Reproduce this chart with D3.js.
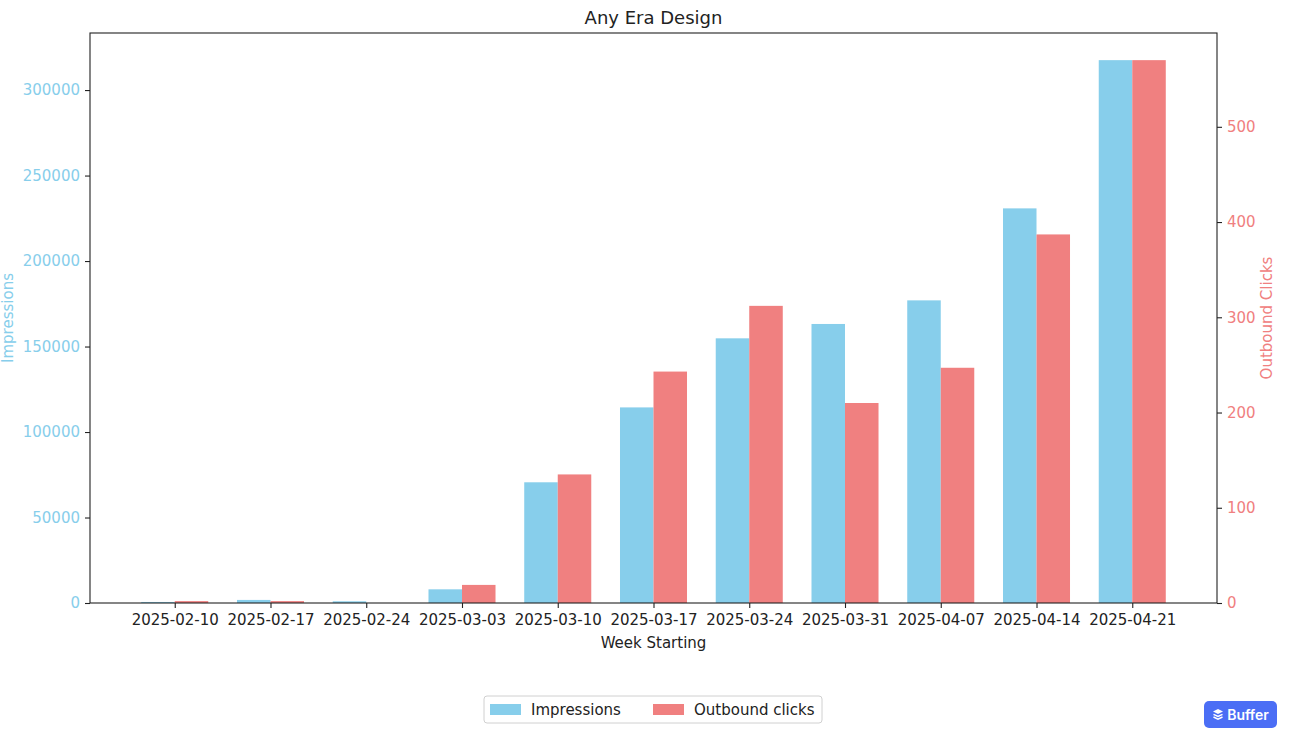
<!DOCTYPE html>
<html>
<head>
<meta charset="utf-8">
<title>Any Era Design</title>
<script src="https://cdn.jsdelivr.net/npm/d3@7"></script>
<style>
  body { margin: 0; background: #fff; font-family: "DejaVu Sans", sans-serif; }
  svg text { fill: #222; }
  .badge {
    position: absolute; left: 1204px; top: 701px; width: 73px; height: 27px;
    background: #4b6ef5; border-radius: 5px; color: #fff;
    font-family: Inter, "Noto Sans", sans-serif; font-weight: 600; font-size: 14px;
    display: flex; align-items: center; justify-content: center; gap: 3px;
  }
</style>
</head>
<body>
<div class="badge"><svg width="12" height="13" viewBox="0 0 12 13">
  <path d="M6 1 L11 3.5 L6 6 L1 3.5 Z" fill="#fff"/>
  <path d="M1.5 6.3 L6 8.5 L10.5 6.3" fill="none" stroke="#fff" stroke-width="1.5"/>
  <path d="M1.5 9 L6 11.2 L10.5 9" fill="none" stroke="#fff" stroke-width="1.5"/>
</svg>Buffer</div>
<script>
// weekly numbers
var weeks = ["2025-02-10", "2025-02-17", "2025-02-24", "2025-03-03", "2025-03-10", "2025-03-17",
             "2025-03-24", "2025-03-31", "2025-04-07", "2025-04-14", "2025-04-21"];
var impressions = [600, 1800, 1000, 8000, 70600, 114400, 154800, 163200, 177000, 230800, 317500];
var clicks = [2, 2, 0, 19, 135, 243, 312, 210, 247, 387, 570];
var impTicks = [0, 50000, 100000, 150000, 200000, 250000, 300000];
var clickTicks = [0, 100, 200, 300, 400, 500];

var width = 1292, height = 733;
// plot box (window.top is reserved, so prefixed names)
var pLeft = 90, pRight = 1217, pTop = 33, pBottom = 603;
var blue = "#87ceeb", red = "#f08080";
var barW = 0.35;
var fs = "15px";

var svg = d3.select("body").append("svg")
  .attr("width", width)
  .attr("height", height)
  .style("position", "absolute").style("left", 0).style("top", 0);

// matplotlib style x limits with 5% margins
var lo = -barW, hi = weeks.length - 1 + barW, pad = (hi - lo) * 0.05;
var x = d3.scaleLinear().domain([lo - pad, hi + pad]).range([pLeft, pRight]);
var yL = d3.scaleLinear().domain([0, d3.max(impressions) * 1.05]).range([pBottom, pTop]);
var yR = d3.scaleLinear().domain([0, d3.max(clicks) * 1.05]).range([pBottom, pTop]);

svg.append("g").selectAll("rect")
  .data(impressions)
  .join("rect")
  .attr("x", function(d, i) { return x(i - barW); })
  .attr("width", x(barW) - x(0))
  .attr("y", function(d) { return yL(d); })
  .attr("height", function(d) { return pBottom - yL(d); })
  .attr("fill", blue);

svg.append("g").selectAll("rect")
  .data(clicks)
  .join("rect")
  .attr("x", function(d, i) { return x(i); })
  .attr("width", x(barW) - x(0))
  .attr("y", function(d) { return yR(d); })
  .attr("height", function(d) { return pBottom - yR(d); })
  .attr("fill", red);

// axes
var gx = svg.append("g").attr("transform", "translate(0," + pBottom + ")")
  .call(d3.axisBottom(x).tickValues(d3.range(weeks.length)).tickFormat(function(i) { return weeks[i]; })
    .tickSizeInner(5).tickSizeOuter(0).tickPadding(6));
var gl = svg.append("g").attr("transform", "translate(" + pLeft + ",0)")
  .call(d3.axisLeft(yL).tickValues(impTicks).tickFormat(d3.format("d"))
    .tickSizeInner(5).tickSizeOuter(0).tickPadding(5));
var gr = svg.append("g").attr("transform", "translate(" + pRight + ",0)")
  .call(d3.axisRight(yR).tickValues(clickTicks).tickFormat(d3.format("d"))
    .tickSizeInner(5).tickSizeOuter(0).tickPadding(5));

[gx, gl, gr].forEach(function(g) {
  g.select(".domain").remove();
  g.selectAll(".tick line").attr("stroke", "#222").attr("stroke-width", 1.1);
  g.selectAll(".tick text").style("font-family", "DejaVu Sans").style("font-size", fs);
});
gx.selectAll(".tick text").style("fill", "#222");
gl.selectAll(".tick text").style("fill", blue);
gr.selectAll(".tick text").style("fill", red);

svg.append("rect")
  .attr("x", pLeft).attr("y", pTop)
  .attr("width", pRight - pLeft).attr("height", pBottom - pTop)
  .attr("fill", "none").attr("stroke", "#222").attr("stroke-width", 1.1);

// titles
svg.append("text")
  .attr("x", (pLeft + pRight) / 2).attr("y", 24)
  .attr("text-anchor", "middle")
  .style("font-size", "18px")
  .text("Any Era Design");

svg.append("text")
  .attr("x", (pLeft + pRight) / 2).attr("y", 648)
  .attr("text-anchor", "middle")
  .style("font-size", fs)
  .text("Week Starting");

svg.append("text")
  .attr("transform", "translate(13," + (pTop + pBottom) / 2 + ")rotate(-90)")
  .attr("text-anchor", "middle")
  .style("font-size", fs).style("fill", blue)
  .text("Impressions");

svg.append("text")
  .attr("transform", "translate(1272," + (pTop + pBottom) / 2 + ")rotate(-90)")
  .attr("text-anchor", "middle")
  .style("font-size", fs).style("fill", red)
  .text("Outbound Clicks");

// legend
var legend = svg.append("g").attr("transform", "translate(484,696)");
legend.append("rect")
  .attr("width", 338).attr("height", 27).attr("rx", 3)
  .attr("fill", "#fff").attr("stroke", "#d0d0d0");
var items = [{ name: "Impressions", color: blue, dx: 6 }, { name: "Outbound clicks", color: red, dx: 169 }];
items.forEach(function(it) {
  legend.append("rect").attr("x", it.dx).attr("y", 8).attr("width", 31).attr("height", 11).attr("fill", it.color);
  legend.append("text").attr("x", it.dx + 41).attr("y", 19)
    .style("font-size", fs).text(it.name);
});
</script>
</body>
</html>
